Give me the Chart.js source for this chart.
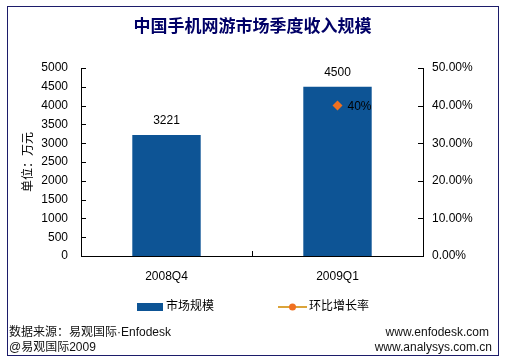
<!DOCTYPE html>
<html><head><meta charset="utf-8">
<script src="https://cdn.jsdelivr.net/npm/chart.js@4"></script>
<style>
body{margin:0;background:#fff;}
#wrap{position:relative;width:505px;height:363px;overflow:hidden;}
#c{position:absolute;left:0;top:0;}
#frame{position:absolute;left:7px;top:6px;width:492px;height:350px;border:1px solid #1c1c6a;box-sizing:border-box;pointer-events:none;}
.ft{position:absolute;font:12px "Liberation Sans",Arial,"Noto Sans CJK SC",sans-serif;color:#111;white-space:nowrap;line-height:14px;}
</style></head>
<body><div id="wrap"><canvas id="c" width="505" height="363"></canvas>
<div id="frame"></div>
<div class="ft" style="left:9px;top:325px">数据来源：易观国际·Enfodesk</div>
<div class="ft" style="left:9px;top:340px">@易观国际2009</div>
<div class="ft" style="right:16px;top:325px">www.enfodesk.com</div>
<div class="ft" style="right:13px;top:340px">www.analysys.com.cn</div>
</div>
<script>
const categories = ['2008Q4', '2009Q1'];
const revenue = [3221, 4500];          // 市场规模 (万元)
const growth = [null, 40];             // 环比增长率 (%)
const seriesNames = ['市场规模', '环比增长率'];
const chartTitle = '中国手机网游市场季度收入规模';
const yTitle = '单位：万元';

const FONT = '"Liberation Sans", Arial, "Noto Sans CJK SC", sans-serif';
const BAR_COLOR = '#0d5495';
const LINE_COLOR = '#dba43a';
const POINT_COLOR = '#f07020';

const decor = {
  id: 'decor',
  afterDatasetsDraw(chart) {
    const ctx = chart.ctx;
    const ca = chart.chartArea;
    ctx.save();
    ctx.strokeStyle = '#000';
    ctx.lineWidth = 1;
    // inward ticks
    const ys = chart.scales.y, y1 = chart.scales.y1, xs = chart.scales.x;
    ys.ticks.forEach((t, i) => {
      const p = Math.round(ys.getPixelForTick(i)) + 0.5;
      ctx.beginPath(); ctx.moveTo(ca.left, p); ctx.lineTo(ca.left + 5, p); ctx.stroke();
    });
    y1.ticks.forEach((t, i) => {
      const p = Math.round(y1.getPixelForTick(i)) + 0.5;
      ctx.beginPath(); ctx.moveTo(ca.right - 5, p); ctx.lineTo(ca.right, p); ctx.stroke();
    });
    for (let i = 0; i < categories.length - 1; i++) {
      const p = Math.round((xs.getPixelForTick(i) + xs.getPixelForTick(i + 1)) / 2) + 0.5;
      ctx.beginPath(); ctx.moveTo(p, ca.bottom); ctx.lineTo(p, ca.bottom - 5); ctx.stroke();
    }
    // value labels
    ctx.fillStyle = '#000';
    ctx.font = '12px ' + FONT;
    ctx.textAlign = 'center';
    ctx.textBaseline = 'middle';
    const barMeta = chart.getDatasetMeta(0);
    barMeta.data.forEach((el, i) => {
      ctx.fillText(String(revenue[i]), el.x, el.y - 14);
    });
    const lineMeta = chart.getDatasetMeta(1);
    ctx.textAlign = 'left';
    lineMeta.data.forEach((el, i) => {
      if (growth[i] == null) return;
      ctx.fillText(growth[i] + '%', el.x + 10, el.y + 1);
    });
    // legend
    const ly = 307;
    ctx.fillStyle = BAR_COLOR;
    ctx.fillRect(137, ly - 4, 26, 8);
    ctx.fillStyle = '#000';
    ctx.fillText(chart.data.datasets[0].label, 166, ly);
    ctx.strokeStyle = LINE_COLOR;
    ctx.lineWidth = 2;
    ctx.beginPath(); ctx.moveTo(278, ly); ctx.lineTo(307, ly); ctx.stroke();
    ctx.fillStyle = POINT_COLOR;
    ctx.beginPath(); ctx.arc(292.5, ly, 3.5, 0, Math.PI * 2); ctx.fill();
    ctx.fillStyle = '#000';
    ctx.fillText(chart.data.datasets[1].label, 309, ly);
    ctx.restore();
  }
};

new Chart(document.getElementById('c'), {
  data: {
    labels: categories,
    datasets: [
      {
        type: 'bar', label: seriesNames[0], data: revenue, yAxisID: 'y', order: 2,
        backgroundColor: BAR_COLOR, borderWidth: 0,
        categoryPercentage: 1, barPercentage: 0.4
      },
      {
        type: 'line', label: seriesNames[1], data: growth, yAxisID: 'y1', order: 1,
        borderColor: LINE_COLOR, borderWidth: 2, spanGaps: false,
        pointStyle: 'rectRot', pointRadius: 5, pointBackgroundColor: POINT_COLOR,
        pointBorderColor: POINT_COLOR, pointBorderWidth: 0
      }
    ]
  },
  options: {
    responsive: false,
    animation: false,
    events: [],
    layout: { padding: { left: 0, right: 0, top: 0, bottom: 67 } },
    plugins: {
      legend: { display: false },
      tooltip: { enabled: false },
      title: {
        display: true, text: chartTitle, color: '#000066',
        font: { family: '"Noto Sans CJK SC", "Liberation Sans", sans-serif', size: 17, weight: 'bold', lineHeight: 1.2 },
        padding: { top: 15, bottom: 32.6 }
      }
    },
    scales: {
      x: {
        position: 'bottom',
        grid: { display: false, drawTicks: false },
        border: { display: true, color: '#000', width: 1 },
        ticks: { color: '#000', font: { family: FONT, size: 12 }, padding: 13 },
        afterFit(s) { s.height = 40; }
      },
      y: {
        position: 'left', min: 0, max: 5000,
        grid: { display: false, drawTicks: false },
        border: { display: true, color: '#000', width: 1 },
        ticks: { stepSize: 500, color: '#000', font: { family: FONT, size: 12 }, padding: 13,
          callback: v => String(v) },
        title: { display: true, text: yTitle, color: '#000', font: { family: FONT, size: 12 }, padding: { top: 21, bottom: 0 } },
        afterFit(s) { s.width = 81; }
      },
      y1: {
        position: 'right', min: 0, max: 50,
        grid: { display: false, drawTicks: false },
        border: { display: true, color: '#000', width: 1 },
        ticks: { stepSize: 10, color: '#000', font: { family: FONT, size: 12 }, padding: 9,
          callback: v => Number(v).toFixed(2) + '%' },
        afterFit(s) { s.width = 82; }
      }
    }
  },
  plugins: [decor]
});
</script>
</body></html>
